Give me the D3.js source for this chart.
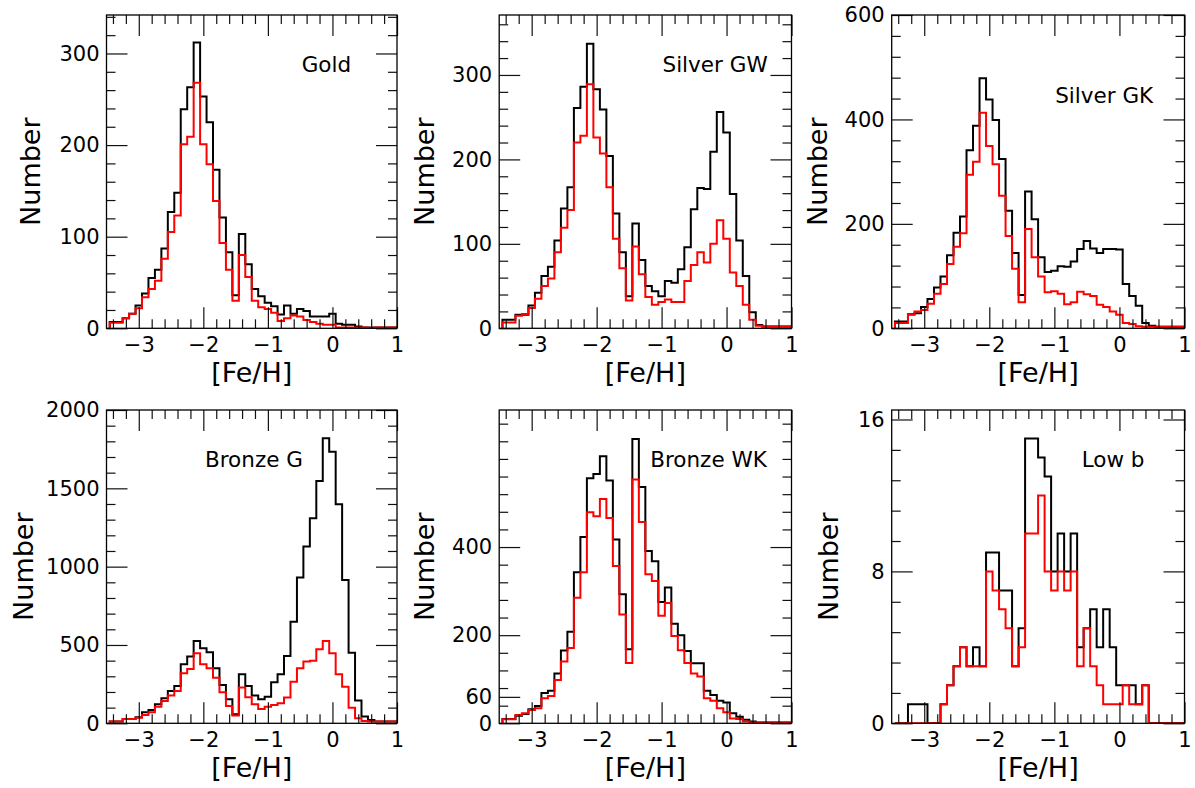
<!DOCTYPE html>
<html><head><meta charset="utf-8">
<script src="https://cdn.jsdelivr.net/npm/d3@7"></script>
<style>
html,body{margin:0;padding:0;background:#fff;}
svg{display:block;font-family:"DejaVu Sans",sans-serif;}
</style></head><body>
<svg id="chart" width="1195" height="788"></svg>
<script>
// ---- data: histogram bin centres ([Fe/H]), bin width 0.1 ----
const binCenters = [-3.4,-3.3,-3.2,-3.1,-3.0,-2.9,-2.8,-2.7,-2.6,-2.5,-2.4,-2.3,-2.2,-2.1,-2.0,-1.9,-1.8,-1.7,-1.6,-1.5,
  -1.4,-1.3,-1.2,-1.1,-1.0,-0.9,-0.8,-0.7,-0.6,-0.5,-0.4,-0.3,-0.2,-0.1,0.0,0.1,0.2,0.3,0.4,0.5,0.6,0.7,0.8,0.9,1.0];
const binWidth = 0.1;

const goldBlack = [7,7,11,16,25,38,55,64,87,127,148,239,263,312,253,225,173,121,83,36,103,70,43,35,28,24,15,25,16,21,19,13,13,13,16,5,4,4,2,1,1,1,1,1,1];
const goldRed   = [6,6,11,16,22,34,43,52,76,105,123,201,209,268,201,179,139,93,64,30,80,56,30,23,21,17,8,11,14,13,9,7,5,4,4,1,1,1,1,1,0,1,1,1,1];

const silverGWBlack = [10,10,16,16,27,42,62,73,104,142,167,261,286,337,283,259,204,136,90,38,124,81,50,44,38,56,54,70,96,141,166,165,209,256,232,159,104,62,19,4,2,2,2,2,2];
const silverGWRed   = [7,7,15,17,24,35,50,59,90,119,140,220,228,289,226,207,167,106,71,33,97,64,37,28,31,34,31,31,56,75,90,78,100,128,106,66,50,28,10,3,2,2,2,2,2];

const silverGKBlack = [13,13,27,29,41,56,78,99,140,183,214,341,388,479,438,399,324,225,144,64,262,209,136,108,110,119,118,128,152,167,153,144,152,152,151,85,62,43,10,5,3,3,3,3,3];
const silverGKRed   = [10,10,26,32,35,47,66,85,123,156,182,294,319,413,349,314,254,177,114,50,190,136,99,69,71,66,46,50,70,65,62,45,41,32,26,10,8,4,3,3,3,3,3,3,3];

const bronzeGBlack = [11,11,28,28,38,70,85,121,160,206,238,377,426,526,479,453,351,245,153,57,313,238,177,153,170,262,313,430,649,930,1128,1309,1547,1819,1734,1398,915,451,145,43,21,11,11,11,11];
const bronzeGRed   = [11,11,28,28,36,53,70,106,143,177,206,319,347,447,377,351,291,198,111,49,228,166,121,91,106,117,128,164,266,351,394,400,472,526,447,313,234,100,32,15,11,11,11,11,11];

const bronzeWKBlack = [10,10,17,21,32,39,69,74,113,165,208,343,423,556,566,606,551,417,293,168,645,536,391,368,275,308,226,200,164,136,136,74,64,51,47,23,15,8,4,2,2,2,2,2,2];
const bronzeWKRed   = [9,9,19,23,30,34,57,62,98,140,171,285,343,479,470,509,466,357,247,137,553,457,338,323,244,273,198,166,137,113,106,57,51,34,25,11,10,4,2,2,2,2,2,2,2];

const lowBBlack = [0,0,1,1,1,0,0,1,2,3,4,3,4,3,9,9,7,7,3,5,15,15,14,13,8,10,8,10,4,5,6,4,6,4,2,2,2,1,2,0,0,0,0,0,0];
const lowBRed   = [0,0,0,0,0,0,0,1,2,3,4,3,3,3,8,7,6,5,3,4,10,10,12,8,7,8,7,8,3,5,3,2,1,1,1,2,1,1,2,0,0,0,0,0,0];

const panelNames = ["Gold","Silver GW","Silver GK","Bronze G","Bronze WK","Low b"];
const blackSeries = [goldBlack, silverGWBlack, silverGKBlack, bronzeGBlack, bronzeWKBlack, lowBBlack];
const redSeries   = [goldRed, silverGWRed, silverGKRed, bronzeGRed, bronzeWKRed, lowBRed];

const xDomain = [-3.5, 1];
const xTickValues = [-3,-2,-1,0,1];
const xMinorStep = 0.2;
const yLimits = [342, 371, 600, 2000, 711, 16.5];
const yMajorTicks = [[0,100,200,300],[0,100,200,300],[0,200,400,600],[0,500,1000,1500,2000],[0,60,200,400],[0,8,16]];
const yMinorSteps = [20,20,40,100,40,1.6];
const xLabel = "[Fe/H]";
const yLabel = "Number";

// ---- layout ----
const cols = [[106.5,397],[499.2,791.5],[891.7,1184.5]];
const rows = [[15,328.3],[410,723.3]];
const labelPos = [[195.2,56.7],[163.3,56.7],[163.5,88.3],[98.5,57.3],[151,56.7],[190,56.7]];
const yLabelShift = [0,1,2,6.5,1,0];
const MAJ = 21, MIN = 9;
const tickFont = 21, labelFont = 27, nameFont = 21.5;

const svg = d3.select("#chart");
const fmt = d => d < 0 ? "\u2212" + Math.abs(d) : String(d);
const near = (a, list) => list.some(b => Math.abs(a - b) < 1e-6);

panelNames.forEach((name, p) => {
  const c = cols[p % 3], r = rows[Math.floor(p / 3)];
  const w = c[1] - c[0], h = r[1] - r[0];
  const g = svg.append("g").attr("transform", `translate(${c[0]},${r[0]})`);
  const x = d3.scaleLinear().domain(xDomain).range([0, w]);
  const y = d3.scaleLinear().domain([0, yLimits[p]]).range([h, 0]);

  const clipId = "clip" + p;
  g.append("clipPath").attr("id", clipId).append("rect").attr("width", w).attr("height", h);

  const stepPoints = vals => {
    const pts = [[binCenters[0] - binWidth / 2, 0]];
    vals.forEach((v, i) => {
      pts.push([binCenters[i] - binWidth / 2, v]);
      pts.push([binCenters[i] + binWidth / 2, v]);
    });
    pts.push([binCenters[binCenters.length - 1] + binWidth / 2, 0]);
    return pts;
  };
  const line = d3.line().x(d => x(d[0])).y(d => y(d[1]));
  const plot = g.append("g").attr("clip-path", `url(#${clipId})`);
  plot.append("path").datum(stepPoints(blackSeries[p]))
    .attr("d", line).attr("fill", "none").attr("stroke", "#000").attr("stroke-width", 2);
  plot.append("path").datum(stepPoints(redSeries[p]))
    .attr("d", line).attr("fill", "none").attr("stroke", "#ff0000").attr("stroke-width", 2);

  const xMinor = d3.range(-3.4, 1.0001, xMinorStep).filter(v => !near(Math.round(v * 10) / 10, xTickValues));
  const yMaj = yMajorTicks[p];
  const yMinor = d3.range(0, yLimits[p], yMinorSteps[p]).filter(v => !yMaj.some(m => Math.abs(m - v) < 1e-3));

  const style = sel => {
    sel.select(".domain").remove();
    sel.attr("color", "#111");
    sel.selectAll("line").attr("stroke-width", 1.2);
    sel.selectAll("text").attr("font-size", tickFont).attr("font-family", "DejaVu Sans").attr("fill", "#000");
  };
  g.append("g").attr("transform", `translate(0,${h})`)
    .call(d3.axisBottom(x).tickValues(xTickValues).tickSize(-MAJ).tickPadding(8.5).tickFormat(fmt)).call(style);
  g.append("g").attr("transform", `translate(0,${h})`)
    .call(d3.axisBottom(x).tickValues(xMinor).tickSize(-MIN).tickFormat("")).call(style);
  g.append("g").call(d3.axisTop(x).tickValues(xTickValues).tickSize(-MAJ).tickFormat("")).call(style);
  g.append("g").call(d3.axisTop(x).tickValues(xMinor).tickSize(-MIN).tickFormat("")).call(style);
  const leftAx = g.append("g")
    .call(d3.axisLeft(y).tickValues(yMaj).tickSize(-MAJ).tickPadding(7).tickFormat(fmt)).call(style);
  g.append("g").call(d3.axisLeft(y).tickValues(yMinor).tickSize(-MIN).tickFormat("")).call(style);
  g.append("g").attr("transform", `translate(${w},0)`)
    .call(d3.axisRight(y).tickValues(yMaj).tickSize(-MAJ).tickFormat("")).call(style);
  g.append("g").attr("transform", `translate(${w},0)`)
    .call(d3.axisRight(y).tickValues(yMinor).tickSize(-MIN).tickFormat("")).call(style);

  g.append("rect").attr("width", w).attr("height", h)
    .attr("fill", "none").attr("stroke", "#000").attr("stroke-width", 1.3);

  // axis labels
  g.append("text").attr("x", w / 2).attr("y", h + 53.4).attr("text-anchor", "middle")
    .attr("font-size", labelFont).text(xLabel);
  let minX = 0;
  leftAx.selectAll("text").each(function () {
    const b = this.getBBox();
    minX = Math.min(minX, b.x - 7);
  });
  const ly = h / 2, lx = minX - 12.6 + yLabelShift[p];
  g.append("text").attr("transform", `translate(${lx},${ly}) rotate(-90)`)
    .attr("text-anchor", "middle").attr("font-size", labelFont).text(yLabel);

  g.append("text").attr("x", labelPos[p][0]).attr("y", labelPos[p][1])
    .attr("font-size", nameFont).text(name);
});
</script>
</body></html>
